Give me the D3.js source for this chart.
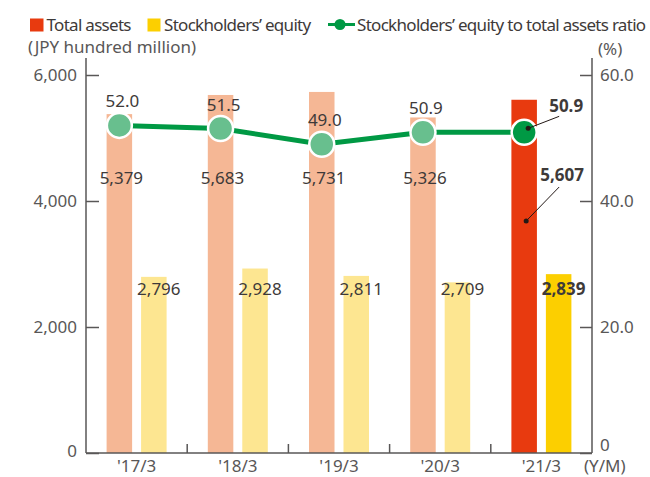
<!DOCTYPE html>
<html>
<head>
<meta charset="utf-8">
<script src="https://cdn.jsdelivr.net/npm/d3@7/dist/d3.min.js"></script>
<style>
  html, body { margin: 0; padding: 0; background: #fff; }
  svg { display: block; font-family: "Noto Sans", sans-serif; }
</style>
</head>
<body>
<svg id="chart" width="650" height="477"></svg>
<script>
// Fiscal years (March year-end)
const categories = ["'17/3", "'18/3", "'19/3", "'20/3", "'21/3"];
// Total assets, JPY hundred million
const totalAssets = [5379, 5683, 5731, 5326, 5607];
// Stockholders' equity, JPY hundred million
const equity = [2796, 2928, 2811, 2709, 2839];
// Stockholders' equity to total assets ratio, %
const ratio = [52.0, 51.5, 49.0, 50.9, 50.9];
// Axis ticks
const leftTicks = [0, 2000, 4000, 6000];
const rightTicks = [0, 20, 40, 60];

const svg = d3.select("#chart");
const plot = { left: 86, right: 592, top: 75, bottom: 453 };

const axisColor = "#595757";
const textColor = "#3e3a39";
const colors = {
  totalPast: "#f5b795", totalCurrent: "#e83a0f",
  equityPast: "#fde691", equityCurrent: "#fccf00",
  line: "#009944", dotPast: "#68bf8e", dotCurrent: "#009944"
};
const last = categories.length - 1;

const x = d3.scaleBand().domain(categories).range([plot.left, plot.right]).padding(0);
const sub = d3.scaleBand().domain(["total", "equity"]).range([-30, 30]).paddingInner(0.26);
const yL = d3.scaleLinear().domain([0, 6000]).range([plot.bottom, plot.top]);
const yR = d3.scaleLinear().domain([0, 60]).range([plot.bottom, plot.top]);

const cx = c => x(c) + x.bandwidth() / 2;
const totalX = c => cx(c) + sub("total");
const equityX = c => cx(c) + sub("equity");
const pointX = c => totalX(c) + sub.bandwidth() / 2;

// ---- Bars ----
const rows = categories.map((c, i) => ({ c, i, total: totalAssets[i], equity: equity[i], ratio: ratio[i] }));

svg.append("g").selectAll("rect").data(rows).join("rect")
  .attr("x", d => totalX(d.c))
  .attr("width", sub.bandwidth())
  .attr("y", d => yL(d.total))
  .attr("height", d => yL(0) - yL(d.total))
  .attr("fill", d => d.i === last ? colors.totalCurrent : colors.totalPast);

svg.append("g").selectAll("rect").data(rows).join("rect")
  .attr("x", d => equityX(d.c))
  .attr("width", sub.bandwidth())
  .attr("y", d => yL(d.equity))
  .attr("height", d => yL(0) - yL(d.equity))
  .attr("fill", d => d.i === last ? colors.equityCurrent : colors.equityPast);

// ---- Axes ----
const axes = svg.append("g").attr("stroke", axisColor).attr("stroke-width", 1.5).attr("fill", "none");
axes.append("line").attr("x1", plot.left).attr("x2", plot.left).attr("y1", 58).attr("y2", plot.bottom);
axes.append("line").attr("x1", plot.right).attr("x2", plot.right).attr("y1", 58).attr("y2", plot.bottom);
axes.append("line").attr("x1", plot.left).attr("x2", plot.right).attr("y1", plot.bottom).attr("y2", plot.bottom);

// left axis: ticks pointing inward
const gL = svg.append("g").attr("transform", `translate(${plot.left},0)`)
  .call(d3.axisRight(yL).tickValues(leftTicks).tickSize(13).tickFormat(() => ""));
gL.select(".domain").remove();
gL.selectAll(".tick line").attr("stroke", axisColor).attr("stroke-width", 1.5);

svg.append("g").selectAll("text").data(leftTicks).join("text")
  .attr("x", 77)
  .attr("y", d => yL(d) + (d === 0 ? -2 : 0))
  .attr("dy", "0.35em")
  .attr("text-anchor", "end")
  .attr("font-size", 17)
  .attr("fill", axisColor)
  .text(d => d3.format(",")(d));

// right axis: ticks pointing inward
const gR = svg.append("g").attr("transform", `translate(${plot.right},0)`)
  .call(d3.axisLeft(yR).tickValues(rightTicks).tickSize(12).tickFormat(() => ""));
gR.select(".domain").remove();
gR.selectAll(".tick line").attr("stroke", axisColor).attr("stroke-width", 1.5);

svg.append("g").selectAll("text").data(rightTicks).join("text")
  .attr("x", 600)
  .attr("y", d => d === 0 ? yR(d) - 2 : yR(d))
  .attr("dy", d => d === 0 ? "0em" : "0.35em")
  .attr("font-size", 17)
  .attr("fill", axisColor)
  .text(d => d === 0 ? "0" : d3.format(".1f")(d));

// category separators on the baseline
const seps = categories.slice(1).map(c => x(c));
svg.append("g").selectAll("line").data(seps).join("line")
  .attr("x1", d => d).attr("x2", d => d)
  .attr("y1", plot.bottom).attr("y2", plot.bottom - 9)
  .attr("stroke", axisColor).attr("stroke-width", 1.5);

svg.append("g").selectAll("text").data(categories).join("text")
  .attr("x", d => cx(d))
  .attr("y", 472)
  .attr("text-anchor", "middle")
  .attr("font-size", 17)
  .attr("fill", axisColor)
  .text(d => d);

svg.append("text").attr("x", 584).attr("y", 472)
  .attr("font-size", 17).attr("fill", axisColor).text("(Y/M)");

svg.append("text").attr("x", 28).attr("y", 53)
  .attr("font-size", 17).attr("fill", axisColor).text("(JPY hundred million)");
svg.append("text").attr("x", 598).attr("y", 55)
  .attr("font-size", 17).attr("fill", axisColor).text("(%)");

// ---- Ratio line ----
const line = d3.line().x(d => pointX(d.c)).y(d => yR(d.ratio));
svg.append("path").datum(rows)
  .attr("d", line)
  .attr("fill", "none")
  .attr("stroke", colors.line)
  .attr("stroke-width", 5);

svg.append("g").selectAll("circle").data(rows).join("circle")
  .attr("cx", d => pointX(d.c))
  .attr("cy", d => yR(d.ratio))
  .attr("r", 12.5)
  .attr("fill", d => d.i === last ? colors.dotCurrent : colors.dotPast)
  .attr("stroke", "#fff")
  .attr("stroke-width", 2.5);

// ---- Value labels (past years) ----
const past = rows.filter(d => d.i !== last);
const labels = svg.append("g").attr("font-size", 17).attr("fill", textColor).attr("text-anchor", "middle");

labels.selectAll(".ratio").data(past).join("text")
  .attr("class", "ratio")
  .attr("x", d => pointX(d.c) + 3)
  .attr("y", d => yR(d.ratio) - 18)
  .text(d => d3.format(".1f")(d.ratio));

labels.selectAll(".total").data(past).join("text")
  .attr("class", "total")
  .attr("x", d => pointX(d.c) + 2)
  .attr("y", 184)
  .text(d => d3.format(",")(d.total));

labels.selectAll(".equity").data(rows).join("text")
  .attr("class", "equity")
  .attr("x", d => equityX(d.c) + sub.bandwidth() / 2 + 5)
  .attr("y", 295)
  .attr("font-weight", d => d.i === last ? "bold" : null)
  .text(d => d3.format(",")(d.equity));

// ---- Current-year callouts with leader lines ----
const cur = rows[last];
const curX = pointX(cur.c);
const callouts = [
  { text: d3.format(".1f")(cur.ratio), dot: [curX + 4, yR(cur.ratio) - 4], end: [curX + 35, yR(cur.ratio) - 16], tx: curX + 42, ty: 112 },
  { text: d3.format(",")(cur.total), dot: [curX + 2, 221], end: [curX + 35, 187], tx: curX + 38, ty: 181 }
];
const co = svg.append("g");
co.selectAll("line").data(callouts).join("line")
  .attr("x1", d => d.dot[0]).attr("y1", d => d.dot[1])
  .attr("x2", d => d.end[0]).attr("y2", d => d.end[1])
  .attr("stroke", "#231815").attr("stroke-width", 1);
co.selectAll("circle").data(callouts).join("circle")
  .attr("cx", d => d.dot[0]).attr("cy", d => d.dot[1]).attr("r", 2.5)
  .attr("fill", "#231815");
co.selectAll("text").data(callouts).join("text")
  .attr("x", d => d.tx).attr("y", d => d.ty)
  .attr("text-anchor", "middle")
  .attr("font-size", 17).attr("font-weight", "bold").attr("fill", textColor)
  .text(d => d.text);

// ---- Legend ----
const legend = svg.append("g").attr("font-size", 17).attr("fill", textColor).attr("letter-spacing", "-0.7px");
legend.append("rect").attr("x", 30).attr("y", 18.5).attr("width", 13.5).attr("height", 13).attr("fill", colors.totalCurrent);
legend.append("text").attr("x", 46.5).attr("y", 31).text("Total assets");
legend.append("rect").attr("x", 147.5).attr("y", 18.5).attr("width", 13).attr("height", 13).attr("fill", colors.equityCurrent);
legend.append("text").attr("x", 164).attr("y", 31).text("Stockholders\u2019 equity");
legend.append("line").attr("x1", 328).attr("x2", 355).attr("y1", 24.5).attr("y2", 24.5)
  .attr("stroke", colors.line).attr("stroke-width", 3);
legend.append("circle").attr("cx", 340).attr("cy", 24.5).attr("r", 5.5).attr("fill", colors.line);
legend.append("text").attr("x", 357).attr("y", 31).text("Stockholders\u2019 equity to total assets ratio");
</script>
</body>
</html>
